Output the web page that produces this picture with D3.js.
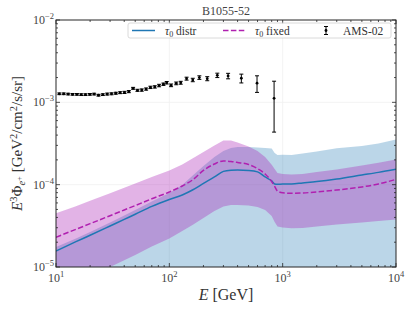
<!DOCTYPE html>
<html><head><meta charset="utf-8">
<script src="https://cdn.jsdelivr.net/npm/d3@7/dist/d3.min.js"></script>
<style>
body{margin:0;background:#fff}
svg{display:block}
text{font-family:"Liberation Serif","DejaVu Serif",serif}
</style>
</head><body>
<svg id="chart" width="413" height="310"></svg>
<script>
// ---------------- data ----------------
const chartTitle = "B1055-52";
const seriesNames = ["distr", "fixed", "AMS-02"];

// AMS-02 positron data (E [GeV], E^3 Phi [GeV^2/cm^2/s/sr], error)
const amsEnergy = [10.7, 11.7, 12.8, 14.0, 15.3, 16.7, 18.2, 19.9, 21.7, 23.7, 25.9, 28.3, 30.9, 33.7, 36.8, 40.2, 43.9, 47.9, 52.3, 57.1, 62.4, 68.1, 74.4, 81.2, 88.7,
                   94.8, 103.6, 115, 126, 142, 161, 184, 216, 265, 330, 432, 594, 840];
const amsFlux = [1.27e-3, 1.27e-3, 1.26e-3, 1.25e-3, 1.25e-3, 1.24e-3, 1.24e-3, 1.25e-3, 1.26e-3, 1.22e-3, 1.24e-3, 1.26e-3, 1.27e-3, 1.29e-3, 1.31e-3, 1.32e-3, 1.35e-3, 1.48e-3, 1.40e-3, 1.41e-3, 1.45e-3, 1.52e-3, 1.54e-3, 1.60e-3, 1.66e-3,
                 1.73e-3, 1.61e-3, 1.70e-3, 1.73e-3, 1.94e-3, 1.87e-3, 2.00e-3, 1.94e-3, 2.13e-3, 2.09e-3, 1.96e-3, 1.71e-3, 1.12e-3];
const amsErr = [0.03e-3, 0.03e-3, 0.03e-3, 0.03e-3, 0.03e-3, 0.03e-3, 0.03e-3, 0.03e-3, 0.03e-3, 0.03e-3, 0.03e-3, 0.035e-3, 0.035e-3, 0.035e-3, 0.035e-3, 0.04e-3, 0.04e-3, 0.04e-3, 0.04e-3, 0.045e-3, 0.045e-3, 0.05e-3, 0.05e-3, 0.055e-3, 0.055e-3,
                0.06e-3, 0.06e-3, 0.065e-3, 0.07e-3, 0.08e-3, 0.09e-3, 0.10e-3, 0.11e-3, 0.13e-3, 0.16e-3, 0.24e-3, 0.39e-3, 0.685e-3];

// model grid energies [GeV]
const modelEnergy = [10, 15, 20, 30, 40, 50, 70, 100, 130, 160, 200, 250, 300, 350, 400, 500, 600, 700, 800, 850, 900, 1000, 1200, 1500, 2000, 3000, 5000, 7000, 10000];
// tau0 distributed: median line and band
const distrLine = [1.56e-5, 2.03e-5, 2.43e-5, 3.15e-5, 3.79e-5, 4.37e-5, 5.45e-5, 6.61e-5, 7.50e-5, 8.62e-5, 1.035e-4, 1.24e-4, 1.45e-4, 1.50e-4, 1.51e-4, 1.49e-4, 1.43e-4, 1.24e-4, 1.11e-4, 1.02e-4, 1.01e-4, 1.02e-4, 1.02e-4, 1.05e-4, 1.09e-4, 1.17e-4, 1.31e-4, 1.41e-4, 1.54e-4];
const distrUpper = [1.75e-5, 2.22e-5, 2.66e-5, 3.47e-5, 4.22e-5, 4.93e-5, 6.25e-5, 7.93e-5, 9.91e-5, 1.28e-4, 1.69e-4, 2.17e-4, 2.57e-4, 2.79e-4, 2.87e-4, 2.87e-4, 2.83e-4, 2.79e-4, 2.75e-4, 2.43e-4, 2.30e-4, 2.31e-4, 2.30e-4, 2.39e-4, 2.53e-4, 2.77e-4, 2.95e-4, 3.16e-4, 3.54e-4];
const distrLower = [1.0e-6, 1.1e-6, 1.2e-6, 1.4e-6, 1.6e-6, 1.8e-6, 2.0e-6, 2.3e-6, 2.6e-6, 2.9e-6, 3.2e-6, 3.5e-6, 3.8e-6, 4.0e-6, 4.2e-6, 4.3e-6, 4.3e-6, 4.2e-6, 4.0e-6, 3.8e-6, 3.7e-6, 3.7e-6, 3.7e-6, 3.8e-6, 3.9e-6, 4.0e-6, 4.2e-6, 4.4e-6, 4.6e-6];
// tau0 fixed: line and band
const fixedLine = [2.30e-5, 2.87e-5, 3.36e-5, 4.20e-5, 4.93e-5, 5.57e-5, 6.74e-5, 8.15e-5, 9.64e-5, 1.14e-4, 1.49e-4, 1.78e-4, 1.94e-4, 1.91e-4, 1.86e-4, 1.76e-4, 1.57e-4, 1.35e-4, 1.09e-4, 9.51e-5, 8.38e-5, 7.97e-5, 7.86e-5, 7.93e-5, 8.15e-5, 8.62e-5, 9.38e-5, 1.02e-4, 1.16e-4];
const fixedUpper = [4.49e-5, 5.46e-5, 6.36e-5, 7.88e-5, 9.17e-5, 1.035e-4, 1.24e-4, 1.49e-4, 1.76e-4, 2.08e-4, 2.50e-4, 2.99e-4, 3.43e-4, 3.45e-4, 3.26e-4, 2.91e-4, 2.57e-4, 2.17e-4, 1.74e-4, 1.55e-4, 1.39e-4, 1.35e-4, 1.33e-4, 1.35e-4, 1.43e-4, 1.53e-4, 1.71e-4, 1.84e-4, 2.02e-4];
const fixedLower = [4.83e-6, 6.3e-6, 7.6e-6, 1.0e-5, 1.21e-5, 1.40e-5, 1.77e-5, 2.22e-5, 2.74e-5, 3.24e-5, 3.94e-5, 4.79e-5, 5.43e-5, 5.67e-5, 5.67e-5, 5.59e-5, 5.36e-5, 4.93e-5, 4.17e-5, 3.52e-5, 3.10e-5, 3.02e-5, 2.95e-5, 2.98e-5, 3.10e-5, 3.28e-5, 3.47e-5, 3.62e-5, 3.78e-5];

const xTickValues = [1e1, 1e2, 1e3, 1e4];
const xTickExponents = ["1", "2", "3", "4"];
const yTickValues = [1e-5, 1e-4, 1e-3, 1e-2];
const yTickExponents = ["\u22125", "\u22124", "\u22123", "\u22122"];

// ---------------- drawing ----------------
const svg = d3.select("#chart");
const L = 56, R = 396, T = 20, B = 267;
const x = d3.scaleLog().domain([10, 1e4]).range([L, R]);
const y = d3.scaleLog().domain([1e-5, 1e-2]).range([B, T]);

const C_BLUE = "#1f77b4";
const C_MAG = "rgb(172,38,184)";
const C_MAGLINE = "#b020b0";
const C_AX = "#262626";
const C_TXT = "#444";

svg.append("defs").append("clipPath").attr("id", "clip")
  .append("rect").attr("x", L).attr("y", T).attr("width", R - L).attr("height", B - T);

// grid
const grid = svg.append("g");
[1e2, 1e3].forEach(v => grid.append("line").attr("x1", x(v)).attr("x2", x(v)).attr("y1", T).attr("y2", B)
  .attr("stroke", "#f0f0f0").attr("stroke-width", 0.8));
[1e-4, 1e-3].forEach(v => grid.append("line").attr("y1", y(v)).attr("y2", y(v)).attr("x1", L).attr("x2", R)
  .attr("stroke", "#f0f0f0").attr("stroke-width", 0.8));

const plot = svg.append("g").attr("clip-path", "url(#clip)");
const idx = d3.range(modelEnergy.length);

const area = (lo, hi) => d3.area()
  .x(i => x(modelEnergy[i])).y0(i => y(lo[i])).y1(i => y(hi[i]))(idx);
const line = (arr) => d3.line().x(i => x(modelEnergy[i])).y(i => y(arr[i])).curve(d3.curveMonotoneX)(idx);

plot.append("path").attr("d", area(distrLower, distrUpper)).attr("fill", C_BLUE).attr("fill-opacity", 0.3);
plot.append("path").attr("d", area(fixedLower, fixedUpper)).attr("fill", C_MAG).attr("fill-opacity", 0.35);
plot.append("path").attr("d", line(distrLine)).attr("fill", "none").attr("stroke", C_BLUE).attr("stroke-width", 1.5);
plot.append("path").attr("d", line(fixedLine)).attr("fill", "none").attr("stroke", C_MAGLINE)
  .attr("stroke-width", 1.5).attr("stroke-dasharray", "5.5,2.4");

// AMS data
const ams = plot.append("g");
amsEnergy.forEach((e, i) => {
  const cx = x(e), v = amsFlux[i], er = amsErr[i];
  const y1 = y(v + er), y2 = y(Math.max(v - er, 1e-6));
  ams.append("line").attr("x1", cx).attr("x2", cx).attr("y1", y1).attr("y2", y2).attr("stroke", "#000").attr("stroke-width", 1);
  [y1, y2].forEach(yy => ams.append("line").attr("x1", cx - 2).attr("x2", cx + 2).attr("y1", yy).attr("y2", yy)
    .attr("stroke", "#000").attr("stroke-width", 1));
  ams.append("circle").attr("cx", cx).attr("cy", y(v)).attr("r", 1.4).attr("fill", "#000");
});

// ticks (inward, all sides)
const ticks = svg.append("g").attr("stroke", C_AX).attr("stroke-width", 0.8);
const xMinor = [], yMinor = [];
for (let d = 1; d <= 3; d++) for (let m = 2; m <= 9; m++) xMinor.push(m * Math.pow(10, d));
for (let d = -5; d <= -3; d++) for (let m = 2; m <= 9; m++) yMinor.push(m * Math.pow(10, d));
xTickValues.forEach(v => {
  ticks.append("line").attr("x1", x(v)).attr("x2", x(v)).attr("y1", B).attr("y2", B - 4);
  ticks.append("line").attr("x1", x(v)).attr("x2", x(v)).attr("y1", T).attr("y2", T + 4);
});
xMinor.forEach(v => {
  ticks.append("line").attr("x1", x(v)).attr("x2", x(v)).attr("y1", B).attr("y2", B - 2);
  ticks.append("line").attr("x1", x(v)).attr("x2", x(v)).attr("y1", T).attr("y2", T + 2);
});
yTickValues.forEach(v => {
  ticks.append("line").attr("y1", y(v)).attr("y2", y(v)).attr("x1", L).attr("x2", L + 4);
  ticks.append("line").attr("y1", y(v)).attr("y2", y(v)).attr("x1", R).attr("x2", R - 4);
});
yMinor.forEach(v => {
  ticks.append("line").attr("y1", y(v)).attr("y2", y(v)).attr("x1", L).attr("x2", L + 2);
  ticks.append("line").attr("y1", y(v)).attr("y2", y(v)).attr("x1", R).attr("x2", R - 2);
});

// frame
svg.append("rect").attr("x", L).attr("y", T).attr("width", R - L).attr("height", B - T)
  .attr("fill", "none").attr("stroke", C_AX).attr("stroke-width", 1);

// tick labels
xTickValues.forEach((v, i) => {
  const t = svg.append("text").attr("x", x(v)).attr("y", B + 15).attr("text-anchor", "middle")
    .attr("fill", C_TXT).attr("font-size", 12);
  t.append("tspan").text("10");
  t.append("tspan").attr("dy", -5).attr("font-size", 8.5).text(xTickExponents[i]);
});
yTickValues.forEach((v, i) => {
  const t = svg.append("text").attr("x", L - 2).attr("y", y(v) + 4).attr("text-anchor", "end")
    .attr("fill", C_TXT).attr("font-size", 12);
  t.append("tspan").text("10");
  t.append("tspan").attr("dy", -5).attr("font-size", 8.5).text(yTickExponents[i]);
});

// title
svg.append("text").attr("x", (L + R) / 2).attr("y", 15).attr("text-anchor", "middle")
  .attr("fill", C_TXT).attr("font-size", 12).text(chartTitle);

// x label
const xl = svg.append("text").attr("x", (L + R) / 2).attr("y", 300).attr("text-anchor", "middle")
  .attr("fill", "#333").attr("font-size", 16);
xl.append("tspan").attr("font-style", "italic").text("E");
xl.append("tspan").text(" [GeV]");

// y label
const yl = svg.append("text").attr("transform", `translate(22,${(T + B) / 2}) rotate(-90)`)
  .attr("text-anchor", "middle").attr("fill", "#333").attr("font-size", 15);
yl.append("tspan").attr("font-style", "italic").text("E");
yl.append("tspan").attr("dy", -5).attr("font-size", 10.5).text("3");
yl.append("tspan").attr("dy", 5).text("Φ");
yl.append("tspan").attr("dy", 3).attr("font-size", 10.5).attr("font-style", "italic").text("e");
yl.append("tspan").attr("dy", -3).attr("font-size", 8.5).text("+");
yl.append("tspan").attr("dy", 0).text(" [GeV");
yl.append("tspan").attr("dy", -5).attr("font-size", 10.5).text("2");
yl.append("tspan").attr("dy", 5).text("/cm");
yl.append("tspan").attr("dy", -5).attr("font-size", 10.5).text("2");
yl.append("tspan").attr("dy", 5).text("/s/sr]");

// legend
const lg = svg.append("g");
lg.append("rect").attr("x", 128).attr("y", 23).attr("width", 263).attr("height", 15).attr("rx", 2)
  .attr("fill", "#fff").attr("fill-opacity", 0.8).attr("stroke", "#d0d0d0").attr("stroke-width", 0.8);
const ly = 30.5;
lg.append("line").attr("x1", 132).attr("x2", 155).attr("y1", ly).attr("y2", ly).attr("stroke", C_BLUE).attr("stroke-width", 1.5);
lg.append("line").attr("x1", 223).attr("x2", 245).attr("y1", ly).attr("y2", ly).attr("stroke", C_MAGLINE)
  .attr("stroke-width", 1.5).attr("stroke-dasharray", "5.5,2.4");
lg.append("line").attr("x1", 326).attr("x2", 326).attr("y1", 26.5).attr("y2", 34.5).attr("stroke", "#000");
[26.5, 34.5].forEach(yy => lg.append("line").attr("x1", 324).attr("x2", 328).attr("y1", yy).attr("y2", yy).attr("stroke", "#000"));
lg.append("circle").attr("cx", 326).attr("cy", ly).attr("r", 1.4).attr("fill", "#000");
[[165, 0], [255, 1]].forEach(([lx, k]) => {
  const t = lg.append("text").attr("x", lx).attr("y", 34.5).attr("fill", "#333").attr("font-size", 11.5);
  t.append("tspan").attr("font-style", "italic").text("τ");
  t.append("tspan").attr("dy", 2).attr("font-size", 8).text("0");
  t.append("tspan").attr("dy", -2).text(" " + seriesNames[k]);
});
lg.append("text").attr("x", 343).attr("y", 34.5).attr("fill", "#333").attr("font-size", 11.5).text(seriesNames[2]);
</script>
</body></html>
